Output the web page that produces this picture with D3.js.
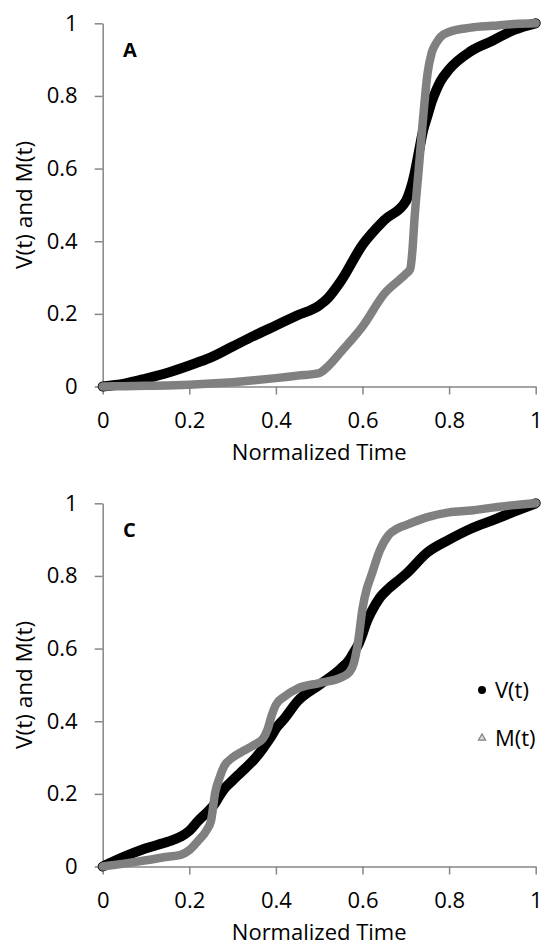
<!DOCTYPE html>
<html lang=en>
<head>
<meta charset="utf-8">
<style>
  body { margin: 0; background: #fff; }
  svg { display: block; font-family: 'Open Sans', sans-serif; }
  .axis path, .axis line { stroke: #868686; stroke-width: 1.5; }
  .axis text { font-size: 22px; fill: #000; font-family: 'Open Sans', sans-serif; }
</style>
<title>V(t) and M(t)</title>
</head>
<body>
<div id="chart"></div>
<script src="https://cdn.jsdelivr.net/npm/d3@7"></script>
<script>
// panel A
var timeA = [0, 0.05, 0.1, 0.15, 0.2, 0.25, 0.3, 0.35, 0.4, 0.45, 0.5, 0.52, 0.55, 0.6, 0.65, 0.7,
             0.71, 0.715, 0.72, 0.73, 0.74, 0.75, 0.76, 0.77, 0.78, 0.8, 0.85, 0.9, 0.95, 1];
var vA = [0, 0.008, 0.022, 0.038, 0.058, 0.08, 0.11, 0.14, 0.168, 0.196, 0.223, 0.243, 0.29, 0.39, 0.458, 0.51,
          0.54, 0.56, 0.585, 0.645, 0.705, 0.745, 0.785, 0.815, 0.84, 0.873, 0.923, 0.952, 0.982, 1];
var mA = [0, 0.001, 0.002, 0.003, 0.005, 0.008, 0.012, 0.017, 0.023, 0.030, 0.037, 0.055, 0.095, 0.165, 0.255, 0.31,
          0.323, 0.37, 0.46, 0.6, 0.74, 0.86, 0.92, 0.945, 0.962, 0.976, 0.988, 0.993, 0.998, 1];

// panel C
var timeC = [0, 0.05, 0.1, 0.15, 0.18, 0.2, 0.22, 0.24, 0.25, 0.26, 0.27, 0.28, 0.3, 0.32, 0.35, 0.37, 0.38, 0.39,
             0.4, 0.42, 0.45, 0.5, 0.55, 0.57, 0.58, 0.59, 0.6, 0.61, 0.62, 0.64, 0.66, 0.68, 0.7, 0.75, 0.8,
             0.85, 0.9, 0.95, 1];
var vC = [0, 0.027, 0.05, 0.068, 0.082, 0.098, 0.125, 0.148, 0.16, 0.175, 0.195, 0.213, 0.237, 0.26, 0.295, 0.325,
          0.342, 0.36, 0.38, 0.408, 0.455, 0.50, 0.545, 0.57, 0.59, 0.61, 0.64, 0.675, 0.70, 0.74, 0.765, 0.785,
          0.805, 0.865, 0.9, 0.93, 0.953, 0.977, 1];
var mC = [0, 0.008, 0.017, 0.027, 0.032, 0.045, 0.07, 0.10, 0.125, 0.205, 0.245, 0.275, 0.3, 0.315, 0.335, 0.352,
          0.375, 0.415, 0.445, 0.468, 0.49, 0.505, 0.52, 0.535, 0.56, 0.62, 0.71, 0.765, 0.80, 0.87, 0.912, 0.93,
          0.94, 0.962, 0.975, 0.98, 0.988, 0.995, 1];

var xTicks = [0, 0.2, 0.4, 0.6, 0.8, 1];
var yTicks = [0, 0.2, 0.4, 0.6, 0.8, 1];
var seriesNames = ["V(t)", "M(t)"];
var panelLetters = ["A", "C"];

(function() {
  var width = 542,
      height = 947;
  var left = 102.7,
      right = 535.7;

  var svg = d3.select("#chart").append("svg")
      .attr("width", width)
      .attr("height", height);

  svg.append("rect")
      .attr("width", width)
      .attr("height", height)
      .attr("fill", "#fff");

  var x = d3.scaleLinear()
      .domain([0, 1])
      .range([left, right]);

  // one panel: axes, titles, the two curves
  function drawPanel(top, bottom, letter, time, vVals, mVals) {
    var y = d3.scaleLinear()
        .domain([0, 1])
        .range([bottom, top]);

    var g = svg.append("g");

    g.append("g")
        .attr("class", "axis")
        .attr("transform", "translate(0," + bottom + ")")
        .call(d3.axisBottom(x).tickValues(xTicks).tickFormat(d3.format("")).tickSize(8).tickSizeOuter(0).tickPadding(18));

    g.append("g")
        .attr("class", "axis")
        .attr("transform", "translate(" + left + ",0)")
        .call(d3.axisLeft(y).tickValues(yTicks).tickFormat(d3.format("")).tickSize(8).tickSizeOuter(0).tickPadding(17));

    g.selectAll(".axis").attr("font-family", null).attr("font-size", null);

    // x title
    g.append("text")
        .attr("x", (left + right) / 2)
        .attr("y", bottom + 73)
        .attr("text-anchor", "middle")
        .attr("font-size", 22)
        .text("Normalized Time");

    // y title
    g.append("text")
        .attr("transform", "translate(32," + (top + bottom) / 2 + ") rotate(-90)")
        .attr("text-anchor", "middle")
        .attr("font-size", 22.5)
        .text("V(t) and M(t)");

    // panel letter
    g.append("text")
        .attr("x", 123)
        .attr("y", top + 34)
        .attr("font-size", 20)
        .attr("font-weight", "bold")
        .text(letter);

    var line = d3.line()
        .x(function(d) { return x(d[0]); })
        .y(function(d) { return y(d[1]); })
        .curve(d3.curveMonotoneX);

    // V(t) black, M(t) grey on top
    g.append("path")
        .datum(d3.zip(time, vVals))
        .attr("d", line)
        .attr("fill", "none")
        .attr("stroke", "#000")
        .attr("stroke-width", 10)
        .attr("stroke-linecap", "round")
        .attr("stroke-linejoin", "round");

    g.append("path")
        .datum(d3.zip(time, mVals))
        .attr("d", line)
        .attr("fill", "none")
        .attr("stroke", "#808080")
        .attr("stroke-width", 8.5)
        .attr("stroke-linecap", "round")
        .attr("stroke-linejoin", "round");

    return y;
  }

  drawPanel(23.3, 386.5, panelLetters[0], timeA, vA, mA);
  drawPanel(503.3, 866.5, panelLetters[1], timeC, vC, mC);

  // legend (panel C)
  var legend = svg.append("g")
      .attr("font-size", 22)
    .selectAll("g")
    .data(seriesNames)
    .enter().append("g")
      .attr("transform", function(d, i) { return "translate(482," + (690 + i * 48) + ")"; });

  legend.filter(function(d, i) { return i === 0; })
    .append("circle")
      .attr("r", 4)
      .attr("fill", "#000");

  legend.filter(function(d, i) { return i === 1; })
    .append("path")
      .attr("d", d3.symbol().type(d3.symbolTriangle).size(22))
      .attr("fill", "#d9d9d9")
      .attr("stroke", "#808080")
      .attr("stroke-width", 1.2);

  legend.append("text")
      .attr("x", 13)
      .attr("dy", "0.35em")
      .text(function(d) { return d; });
})();
</script>
</body>
</html>
